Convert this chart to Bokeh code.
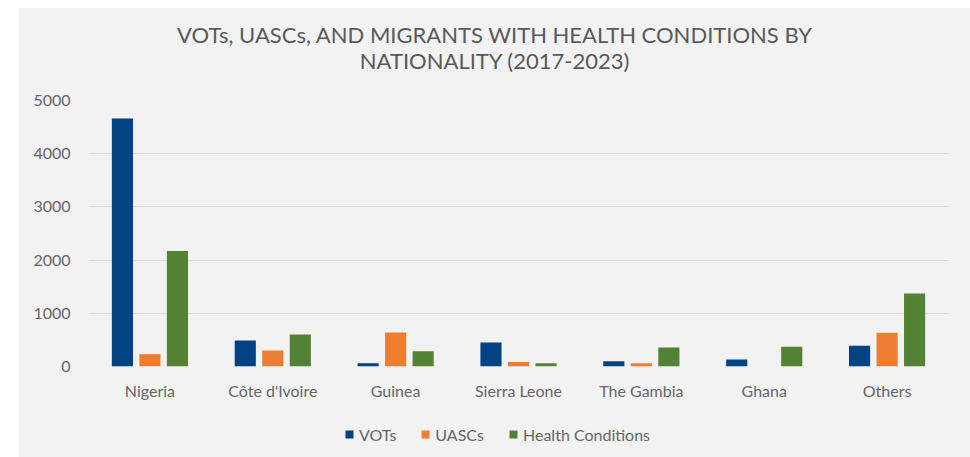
from bokeh.plotting import figure
from bokeh.embed import file_html
from bokeh.resources import INLINE
from bokeh.models import ColumnDataSource, FactorRange, Legend, LegendItem, Spacer, Label, Range1d
from bokeh.transform import dodge
from bokeh.layouts import row, column

countries = ["Nigeria", "Côte d'Ivoire", "Guinea", "Sierra Leone", "The Gambia", "Ghana", "Others"]
vots = [4660, 490, 60, 450, 100, 130, 390]
uascs = [230, 300, 640, 85, 60, 0, 635]
health = [2170, 600, 285, 60, 355, 370, 1370]
series_names = ["VOTs", "UASCs", "Health Conditions"]
y_ticks = [0, 1000, 2000, 3000, 4000, 5000]
title_lines = ["VOTs, UASCs, AND MIGRANTS WITH HEALTH CONDITIONS BY", "NATIONALITY (2017-2023)"]

BG = "#f2f2f2"
TXT = "#666666"
FONT = "Lato"
W = 951
colors = ["#004282", "#ed7d31", "#548235"]
FRAME_LEFT = 88  # page x of the aligned plot frames


def blank_fig(h):
    f = figure(width=W, height=h, output_backend="svg", toolbar_location=None,
               x_axis_type=None, y_axis_type=None, x_range=Range1d(0, 1), y_range=Range1d(0, 1),
               min_border=0, min_border_left=0, min_border_right=0, min_border_top=0, min_border_bottom=0)
    f.background_fill_color = BG
    f.border_fill_color = BG
    f.outline_line_color = None
    f.grid.visible = False
    return f


# ---- title strip ----
tf = blank_fig(82)
cx = 494.5 - FRAME_LEFT
tf.add_layout(Label(x=cx, y=82 - 25.5, x_units="screen", y_units="screen", text=title_lines[0],
                    text_align="center", text_baseline="middle", text_font=FONT,
                    text_font_size="22px", text_color="#595959"))
tf.add_layout(Label(x=cx, y=82 - 51.5, x_units="screen", y_units="screen", text=title_lines[1],
                    text_align="center", text_baseline="middle", text_font=FONT,
                    text_font_size="22px", text_color="#595959"))

# ---- main chart ----
src = ColumnDataSource(dict(country=countries, vots=vots, uascs=uascs, health=health))
p = figure(x_range=FactorRange(*countries), y_range=(0, 5000),
           width=W, height=320, output_backend="svg", toolbar_location=None,
           min_border_left=69, min_border_right=22, min_border_top=10, min_border_bottom=44)
p.background_fill_color = BG
p.border_fill_color = BG
p.outline_line_color = None

fields = ["vots", "uascs", "health"]
offsets = [-0.224, 0.0, 0.224]
for f, c, o in zip(fields, colors, offsets):
    p.vbar(x=dodge("country", o, range=p.x_range), top=f, width=0.172, source=src,
           fill_color=c, line_color=None)

p.yaxis.ticker = y_ticks
p.xgrid.grid_line_color = None
p.ygrid.grid_line_color = "#d9d9d9"
p.ygrid.grid_line_width = 1
for ax in (p.xaxis[0], p.yaxis[0]):
    ax.axis_line_color = None
    ax.major_tick_line_color = None
    ax.minor_tick_line_color = None
    ax.major_tick_out = 0
    ax.major_tick_in = 0
    ax.minor_tick_out = 0
    ax.major_label_text_font = FONT
    ax.major_label_text_font_size = "16px"
    ax.major_label_text_color = TXT
p.yaxis.major_label_standoff = 18
p.xaxis.major_label_standoff = 14

# ---- legend strip (swatch renderers have zero height, nothing is drawn) ----
lf = blank_fig(47)
sw = []
for c in colors:
    sw.append(lf.vbar(x=[0.5], top=[0], bottom=[0], width=0.01, fill_color=c, line_color=None))
legend = Legend(items=[LegendItem(label=n, renderers=[r]) for n, r in zip(series_names, sw)],
                orientation="horizontal", location=(344 - FRAME_LEFT, 13),
                glyph_width=10, glyph_height=10, label_standoff=5, spacing=24,
                padding=0, margin=0, border_line_color=None, background_fill_alpha=0,
                label_text_font=FONT, label_text_font_size="16px", label_text_color=TXT,
                label_height=20)
lf.add_layout(legend, "center")

layout = column(Spacer(width=970, height=8),
                row(Spacer(width=19, height=449),
                    column(tf, p, lf, styles={"background-color": BG})))
open("out.html", "w").write(file_html(layout, INLINE))
